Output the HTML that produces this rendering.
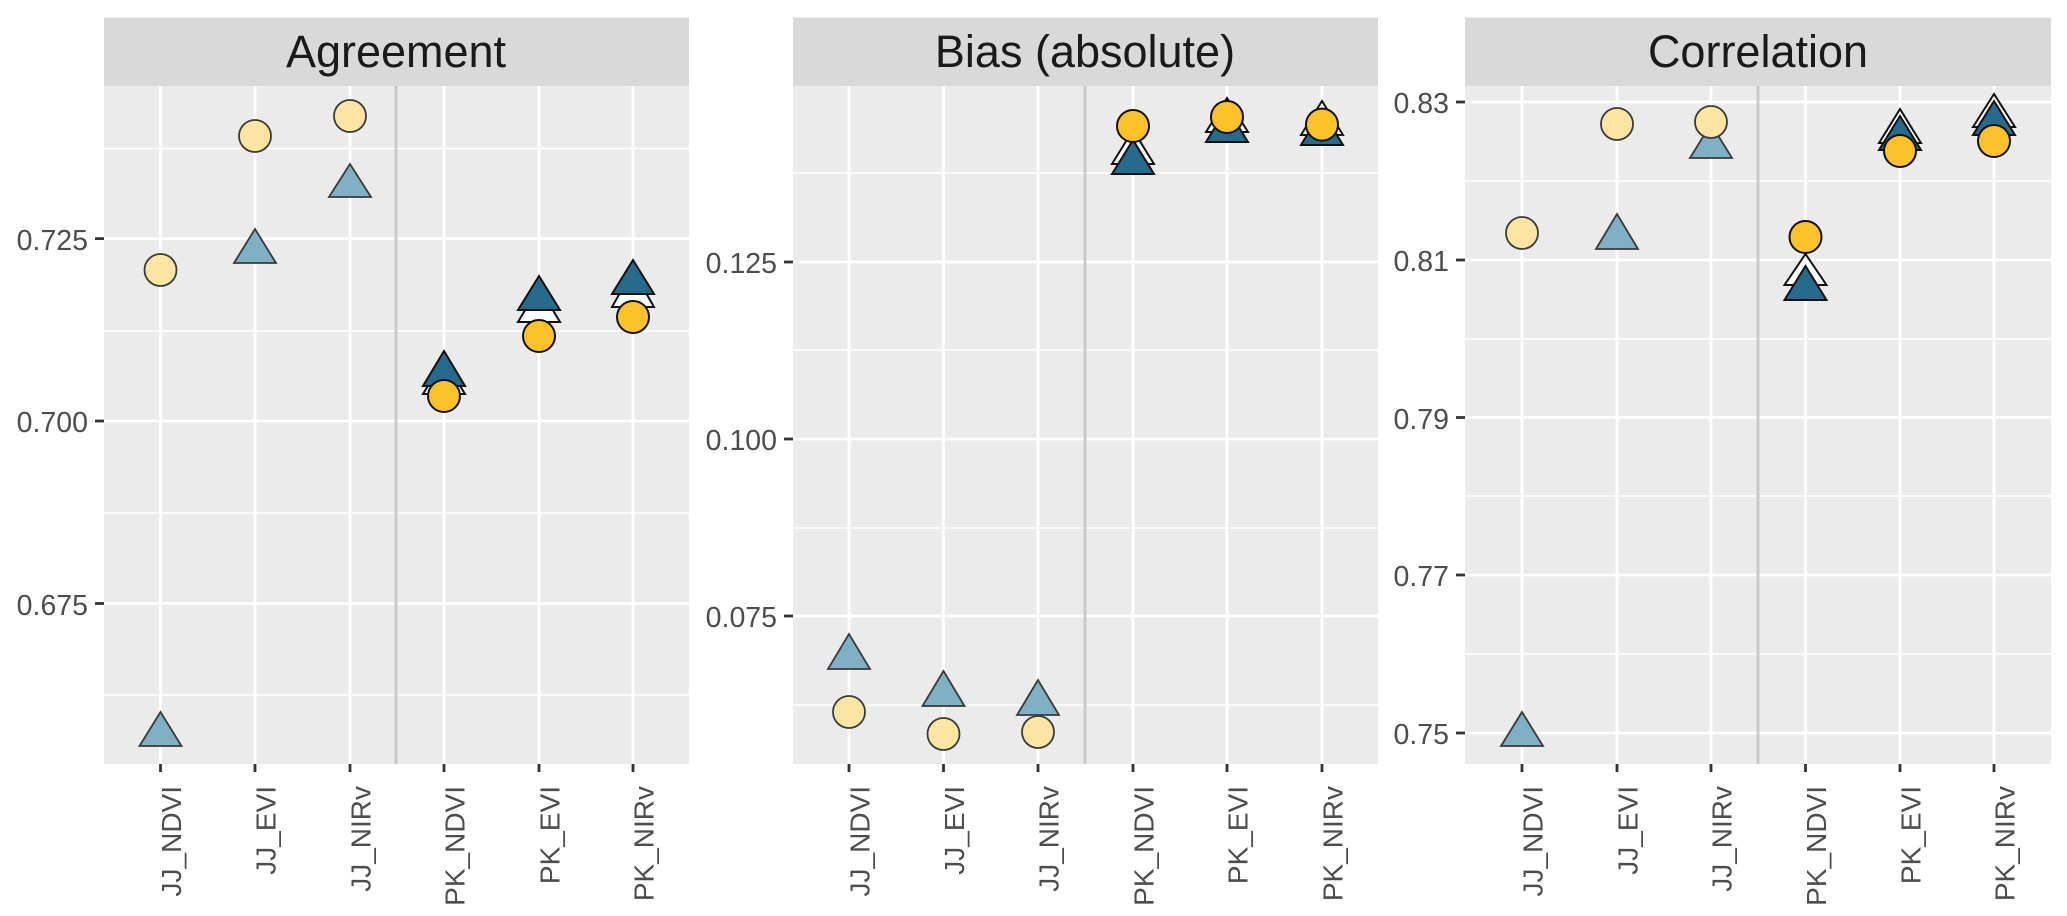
<!DOCTYPE html>
<html><head><meta charset="utf-8"><style>
html,body{margin:0;padding:0;background:#fff;}
svg{display:block;}
text{font-family:"Liberation Sans",Arial,sans-serif;}
</style></head><body>
<svg width="2067" height="916" viewBox="0 0 2067 916" xmlns="http://www.w3.org/2000/svg">
<defs>
<style>
.bg{fill:#ebebeb}.st{fill:#d9d9d9}
.mj{stroke:#fff;stroke-width:2.8}.mn{stroke:#fff;stroke-width:1.4}
.sep{stroke:#c8c8c8;stroke-width:2.8}
.tk{stroke:#333;stroke-width:2.8}
.yl{font-size:28.5px;fill:#4d4d4d;text-anchor:end}
.xl{font-size:28px;fill:#4d4d4d;text-anchor:end}
.tt{font-size:45px;fill:#1a1a1a;text-anchor:middle}
.lc{fill:#fee6a2;stroke:#3a3a3a;stroke-width:1.8}
.lt{fill:#7fb0c4;stroke:#3a3a3a;stroke-width:1.8}
.gc{fill:#fdc22a;stroke:#111;stroke-width:2}
.dt{fill:#266b8b;stroke:#111;stroke-width:2}
.wt{fill:#fff;stroke:#111;stroke-width:2}
</style>
</defs>

<!-- Panel 1 -->
<rect class="st" x="104" y="17.5" width="585" height="68.5"/>
<text class="tt" x="396" y="67">Agreement</text>
<rect class="bg" x="104" y="86" width="585" height="678"/>
<g>
<line class="mn" x1="104" x2="689" y1="148.5" y2="148.5"/><line class="mn" x1="104" x2="689" y1="331" y2="331"/>
<line class="mn" x1="104" x2="689" y1="513" y2="513"/><line class="mn" x1="104" x2="689" y1="695" y2="695"/>
<line class="mj" x1="104" x2="689" y1="238.6" y2="238.6"/><line class="mj" x1="104" x2="689" y1="421" y2="421"/><line class="mj" x1="104" x2="689" y1="603.5" y2="603.5"/>
<line class="mj" x1="160.5" x2="160.5" y1="86" y2="764"/><line class="mj" x1="255" x2="255" y1="86" y2="764"/><line class="mj" x1="350" x2="350" y1="86" y2="764"/>
<line class="mj" x1="444" x2="444" y1="86" y2="764"/><line class="mj" x1="539" x2="539" y1="86" y2="764"/><line class="mj" x1="633" x2="633" y1="86" y2="764"/>
<line class="sep" x1="396" x2="396" y1="86" y2="764"/>
<line class="tk" x1="95" x2="104" y1="238.6" y2="238.6"/><line class="tk" x1="95" x2="104" y1="421" y2="421"/><line class="tk" x1="95" x2="104" y1="603.5" y2="603.5"/>
<text class="yl" x="88" y="250">0.725</text><text class="yl" x="88" y="432">0.700</text><text class="yl" x="88" y="615">0.675</text>
<g class="tk"><line x1="160.5" x2="160.5" y1="764" y2="772"/><line x1="255" x2="255" y1="764" y2="772"/><line x1="350" x2="350" y1="764" y2="772"/><line x1="444" x2="444" y1="764" y2="772"/><line x1="539" x2="539" y1="764" y2="772"/><line x1="633" x2="633" y1="764" y2="772"/></g>
<text class="xl" transform="translate(181,786) rotate(-90)">JJ_NDVI</text>
<text class="xl" transform="translate(275.5,786) rotate(-90)">JJ_EVI</text>
<text class="xl" transform="translate(370.5,786) rotate(-90)">JJ_NIRv</text>
<text class="xl" transform="translate(464.5,786) rotate(-90)">PK_NDVI</text>
<text class="xl" transform="translate(559.5,786) rotate(-90)">PK_EVI</text>
<text class="xl" transform="translate(653.5,786) rotate(-90)">PK_NIRv</text>
<polygon class="lt" points="160.5,712 139.5,746 181.5,746"/>
<polygon class="lt" points="255,229 234,263 276,263"/>
<polygon class="lt" points="350,164 329,197 371,197"/>
<circle class="lc" cx="160.5" cy="270" r="16"/>
<circle class="lc" cx="255" cy="136" r="16"/>
<circle class="lc" cx="350" cy="116" r="16"/>
<polygon class="wt" points="444,360 423,394 465,394"/><polygon class="dt" points="444,351 423,386 465,386"/><circle class="gc" cx="444" cy="396" r="16"/>
<polygon class="wt" points="539,287 518,322 560,322"/><polygon class="dt" points="539,276 518,310 560,310"/><circle class="gc" cx="539" cy="336" r="16"/>
<polygon class="wt" points="633,270 612,307 654,307"/><polygon class="dt" points="633,260 612,294 654,294"/><circle class="gc" cx="633" cy="317" r="16"/>
</g>

<!-- Panel 2 -->
<rect class="st" x="793" y="17.5" width="585" height="68.5"/>
<text class="tt" x="1085" y="67">Bias (absolute)</text>
<rect class="bg" x="793" y="86" width="585" height="678"/>
<g>
<line class="mn" x1="793" x2="1378" y1="173" y2="173"/><line class="mn" x1="793" x2="1378" y1="350" y2="350"/>
<line class="mn" x1="793" x2="1378" y1="528" y2="528"/><line class="mn" x1="793" x2="1378" y1="705" y2="705"/>
<line class="mj" x1="793" x2="1378" y1="262" y2="262"/><line class="mj" x1="793" x2="1378" y1="439" y2="439"/><line class="mj" x1="793" x2="1378" y1="616" y2="616"/>
<line class="mj" x1="849" x2="849" y1="86" y2="764"/><line class="mj" x1="943.5" x2="943.5" y1="86" y2="764"/><line class="mj" x1="1038" x2="1038" y1="86" y2="764"/>
<line class="mj" x1="1133" x2="1133" y1="86" y2="764"/><line class="mj" x1="1227" x2="1227" y1="86" y2="764"/><line class="mj" x1="1322" x2="1322" y1="86" y2="764"/>
<line class="sep" x1="1085" x2="1085" y1="86" y2="764"/>
<line class="tk" x1="784" x2="793" y1="262" y2="262"/><line class="tk" x1="784" x2="793" y1="439" y2="439"/><line class="tk" x1="784" x2="793" y1="616" y2="616"/>
<text class="yl" x="777" y="273">0.125</text><text class="yl" x="777" y="450">0.100</text><text class="yl" x="777" y="627">0.075</text>
<g class="tk"><line x1="849" x2="849" y1="764" y2="772"/><line x1="943.5" x2="943.5" y1="764" y2="772"/><line x1="1038" x2="1038" y1="764" y2="772"/><line x1="1133" x2="1133" y1="764" y2="772"/><line x1="1227" x2="1227" y1="764" y2="772"/><line x1="1322" x2="1322" y1="764" y2="772"/></g>
<text class="xl" transform="translate(869.5,786) rotate(-90)">JJ_NDVI</text>
<text class="xl" transform="translate(964,786) rotate(-90)">JJ_EVI</text>
<text class="xl" transform="translate(1058.5,786) rotate(-90)">JJ_NIRv</text>
<text class="xl" transform="translate(1153.5,786) rotate(-90)">PK_NDVI</text>
<text class="xl" transform="translate(1247.5,786) rotate(-90)">PK_EVI</text>
<text class="xl" transform="translate(1342.5,786) rotate(-90)">PK_NIRv</text>
<polygon class="lt" points="849,634 828,669 870,669"/>
<polygon class="lt" points="943.5,671 922.5,706 964.5,706"/>
<polygon class="lt" points="1038,680 1017,715 1059,715"/>
<circle class="lc" cx="849" cy="712" r="16"/>
<circle class="lc" cx="943.5" cy="734" r="16"/>
<circle class="lc" cx="1038" cy="732" r="16"/>
<polygon class="wt" points="1133,130 1112,164 1154,164"/><polygon class="dt" points="1133,140 1112,174 1154,174"/><circle class="gc" cx="1133" cy="126" r="16"/>
<polygon class="wt" points="1227,98 1206,132 1248,132"/><polygon class="dt" points="1227,108 1206,142 1248,142"/><circle class="gc" cx="1227" cy="117" r="16"/>
<polygon class="wt" points="1322,101 1301,135 1343,135"/><polygon class="dt" points="1322,111 1301,145 1343,145"/><circle class="gc" cx="1322" cy="124.6" r="16"/>
</g>

<!-- Panel 3 -->
<rect class="st" x="1465" y="17.5" width="586" height="68.5"/>
<text class="tt" x="1758" y="67">Correlation</text>
<rect class="bg" x="1465" y="86" width="586" height="678"/>
<g>
<line class="mn" x1="1465" x2="2051" y1="181" y2="181"/><line class="mn" x1="1465" x2="2051" y1="339" y2="339"/>
<line class="mn" x1="1465" x2="2051" y1="496" y2="496"/><line class="mn" x1="1465" x2="2051" y1="654" y2="654"/>
<line class="mj" x1="1465" x2="2051" y1="102" y2="102"/><line class="mj" x1="1465" x2="2051" y1="260" y2="260"/><line class="mj" x1="1465" x2="2051" y1="417.5" y2="417.5"/>
<line class="mj" x1="1465" x2="2051" y1="575" y2="575"/><line class="mj" x1="1465" x2="2051" y1="733" y2="733"/>
<line class="mj" x1="1522" x2="1522" y1="86" y2="764"/><line class="mj" x1="1617" x2="1617" y1="86" y2="764"/><line class="mj" x1="1711" x2="1711" y1="86" y2="764"/>
<line class="mj" x1="1805.5" x2="1805.5" y1="86" y2="764"/><line class="mj" x1="1900" x2="1900" y1="86" y2="764"/><line class="mj" x1="1994" x2="1994" y1="86" y2="764"/>
<line class="sep" x1="1758" x2="1758" y1="86" y2="764"/>
<line class="tk" x1="1456" x2="1465" y1="102" y2="102"/><line class="tk" x1="1456" x2="1465" y1="260" y2="260"/><line class="tk" x1="1456" x2="1465" y1="417.5" y2="417.5"/><line class="tk" x1="1456" x2="1465" y1="575" y2="575"/><line class="tk" x1="1456" x2="1465" y1="733" y2="733"/>
<text class="yl" x="1449" y="113">0.83</text><text class="yl" x="1449" y="271">0.81</text><text class="yl" x="1449" y="429">0.79</text><text class="yl" x="1449" y="586">0.77</text><text class="yl" x="1449" y="744">0.75</text>
<g class="tk"><line x1="1522" x2="1522" y1="764" y2="772"/><line x1="1617" x2="1617" y1="764" y2="772"/><line x1="1711" x2="1711" y1="764" y2="772"/><line x1="1805.5" x2="1805.5" y1="764" y2="772"/><line x1="1900" x2="1900" y1="764" y2="772"/><line x1="1994" x2="1994" y1="764" y2="772"/></g>
<text class="xl" transform="translate(1542.5,786) rotate(-90)">JJ_NDVI</text>
<text class="xl" transform="translate(1637.5,786) rotate(-90)">JJ_EVI</text>
<text class="xl" transform="translate(1731.5,786) rotate(-90)">JJ_NIRv</text>
<text class="xl" transform="translate(1826,786) rotate(-90)">PK_NDVI</text>
<text class="xl" transform="translate(1920.5,786) rotate(-90)">PK_EVI</text>
<text class="xl" transform="translate(2014.5,786) rotate(-90)">PK_NIRv</text>
<polygon class="lt" points="1522,712 1501,746 1543,746"/>
<polygon class="lt" points="1617,214 1596,249 1638,249"/>
<polygon class="lt" points="1711,124 1690,158 1732,158"/>
<circle class="lc" cx="1522" cy="233" r="16"/>
<circle class="lc" cx="1617" cy="124" r="16"/>
<circle class="lc" cx="1711" cy="122" r="16"/>
<polygon class="wt" points="1805.5,254 1784.5,285 1826.5,285"/><polygon class="dt" points="1805.5,266 1784.5,300 1826.5,300"/><circle class="gc" cx="1805.5" cy="237" r="16"/>
<polygon class="wt" points="1900,109 1879,143 1921,143"/><polygon class="dt" points="1900,116 1879,150 1921,150"/><circle class="gc" cx="1900" cy="151" r="16"/>
<polygon class="wt" points="1994,94 1973,127 2015,127"/><polygon class="dt" points="1994,101 1973,135 2015,135"/><circle class="gc" cx="1994" cy="141" r="16"/>
</g>
</svg>
</body></html>
